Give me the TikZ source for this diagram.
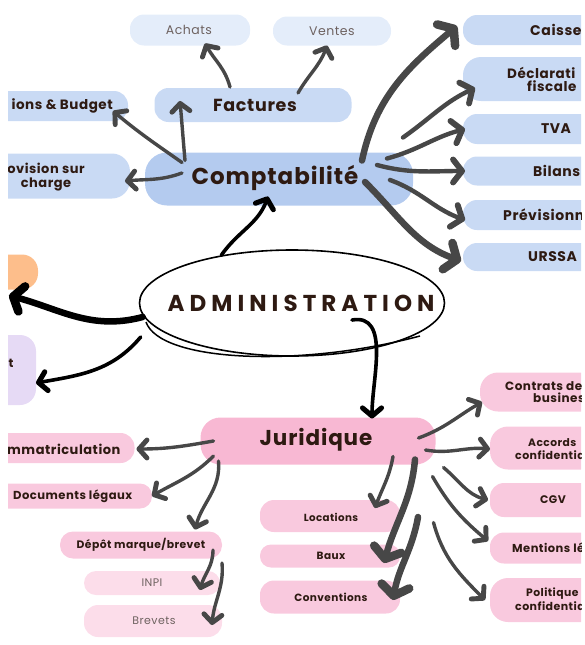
\documentclass[tikz,border=0pt]{standalone}
\usepackage{fontspec}
\setmainfont{Poppins}[LetterSpace=4]
\usetikzlibrary{arrows.meta,shapes.geometric}

\definecolor{ink}{HTML}{2E1A12}
\definecolor{soft}{HTML}{6E6260}
\definecolor{blueA}{HTML}{B4CBEF}
\definecolor{blueB}{HTML}{C9DAF4}
\definecolor{blueC}{HTML}{E4EDFA}
\definecolor{pinkA}{HTML}{F8B8D3}
\definecolor{pinkB}{HTML}{F9C9DE}
\definecolor{pinkC}{HTML}{FCDDEA}
\definecolor{peach}{HTML}{FDBE8B}
\definecolor{lilac}{HTML}{E6DAF5}
\definecolor{agray}{HTML}{474747}

\tikzset{
  pill/.style={inner sep=0pt, outer sep=0pt, rounded corners=#1},
  pill/.default=14pt,
  lbl/.style={inner sep=0pt, text=ink, font=\bfseries\fontsize{#1}{#1}\selectfont},
  lbl/.default=10,
  lite/.style={inner sep=0pt, text=soft, font=\fontsize{#1}{#1}\selectfont},
  lite/.default=10,
  garrow/.style={draw=agray, line width=3.4pt, line cap=round,
    -{Straight Barb[length=8pt,width=18pt,line width=1.5pt 1,round]}},
  gmid/.style={draw=agray, line width=4.4pt, line cap=round,
    -{Straight Barb[length=9pt,width=23pt,line width=1.5pt 1,round]}},
  gthick/.style={draw=agray, line width=6.5pt, line cap=round,
    -{Straight Barb[length=10pt,width=28pt,line width=2pt 1,round]}},
  barrow/.style={draw=black, line width=3.6pt, line cap=round,
    -{Straight Barb[length=8pt,width=19pt,line width=1.5pt 1,round]}},
}

\begin{document}
\begin{tikzpicture}[x=1pt,y=-1pt]
\useasboundingbox (0,0) rectangle (584,645);
\clip (8,0) rectangle (581,645);

% Comptabilite
\node[pill=22pt, fill=blueA, minimum width=268pt, minimum height=53pt] (compta) at (279,179) {};
\node[lbl=23] at (275,178) {Comptabilité};
\node[pill, fill=blueB, minimum width=197pt, minimum height=34pt] (fact) at (253,105) {};
\node[lbl=17.5] at (255,105) {Factures};
\node[pill, fill=blueC, minimum width=120pt, minimum height=31pt] (achats) at (190,30) {};
\node[lite=12.5] at (189,30) {Achats};
\node[pill, fill=blueC, minimum width=118pt, minimum height=29pt] (ventes) at (332,31) {};
\node[lite=12.5] at (332,31) {Ventes};
\node[pill, fill=blueB, minimum width=168pt, minimum height=30pt] (prevb) at (44,106) {};
\node[lbl=13.5, anchor=east] at (113,106) {ions \& Budget};
\node[pill=18pt, fill=blueB, minimum width=170pt, minimum height=45pt] (provc) at (45,176) {};
\node[lbl=13, align=center] at (46,177) {ovision sur\\[1pt]charge};

\node[pill, fill=blueB, minimum width=240pt, minimum height=30pt] (caisse) at (583,30) {};
\node[lbl=14, anchor=west] at (530,30) {Caisse};
\node[pill=18pt, fill=blueB, minimum width=240pt, minimum height=44pt] (decl) at (583,79) {};
\node[lbl=13.5, anchor=west] at (507,73) {Déclarati};
\node[lbl=13.5, anchor=west] at (527,86) {fiscale};
\node[pill, fill=blueB, minimum width=240pt, minimum height=30pt] (tva) at (583,129) {};
\node[lbl=14] at (556,129) {TVA};
\node[pill, fill=blueB, minimum width=240pt, minimum height=29pt] (bilans) at (583,171) {};
\node[lbl=14, anchor=west] at (533,171) {Bilans};
\node[pill, fill=blueB, minimum width=240pt, minimum height=30pt] (previ) at (583,215) {};
\node[lbl=14, anchor=west] at (503,215) {Prévisionn};
\node[pill, fill=blueB, minimum width=240pt, minimum height=28pt] (urssaf) at (583,257) {};
\node[lbl=14, anchor=west] at (528,257) {URSSA};

% Administration
\node[pill=16pt, fill=peach, minimum width=58pt, minimum height=35pt] (peachbox) at (9,272) {};
\node[pill=16pt, fill=lilac, minimum width=56pt, minimum height=70pt] (lilacbox) at (8,370) {};
\node[lbl=12] at (11,363) {t};
\node[draw, ellipse, line width=1.6pt, minimum width=305pt, minimum height=106pt,
  inner sep=0pt] (adm) at (292,303) {};
\draw[line width=1.5pt] (146,322) .. controls (160,362) and (300,368) .. (420,336);
\node[lbl=23] at (301,303) {\addfontfeature{LetterSpace=22}ADMINISTRATION};

% Juridique
\node[pill=20pt, fill=pinkA, minimum width=235pt, minimum height=47pt] (juri) at (318,441) {};
\node[lbl=21.5] at (316,440) {Juridique};
\node[pill, fill=pinkB, minimum width=175pt, minimum height=30pt] (immat) at (47,448) {};
\node[lbl=13, anchor=west] at (7,449) {mmatriculation};
\node[pill=12pt, fill=pinkB, minimum width=172pt, minimum height=25pt] (docs) at (66,496) {};
\node[lbl=11.6, anchor=west] at (13,496) {Documents légaux};
\node[pill=13pt, fill=pinkB, minimum width=162pt, minimum height=27pt] (depot) at (141,545) {};
\node[lbl=10.8] at (141,545) {Dépôt marque/brevet};
\node[pill=12pt, fill=pinkC, minimum width=136pt, minimum height=24pt] (inpi) at (152,583) {};
\node[lite=11] at (152,583) {INPI};
\node[pill, fill=pinkC, minimum width=138pt, minimum height=32pt] (brevets) at (153,621) {};
\node[lite=11] at (154,621) {Brevets};
\node[pill, fill=pinkB, minimum width=140pt, minimum height=32pt] (loc) at (330,516) {};
\node[lbl=10.3] at (331,517) {Locations};
\node[pill=11pt, fill=pinkB, minimum width=140pt, minimum height=23pt] (baux) at (330,556) {};
\node[lbl=10.5] at (331,556) {Baux};
\node[pill, fill=pinkB, minimum width=140pt, minimum height=33pt] (conv) at (330,597) {};
\node[lbl=10.5] at (331,597) {Conventions};

\node[pill=18pt, fill=pinkB, minimum width=240pt, minimum height=39pt] (contrats) at (600,392) {};
\node[lbl=12, anchor=west] at (505,386) {Contrats de};
\node[lbl=12, anchor=west] at (533,398) {busines};
\node[pill=18pt, fill=pinkB, minimum width=240pt, minimum height=43pt] (accords) at (610,448) {};
\node[lbl=10.7, anchor=west] at (528,443) {Accords};
\node[lbl=11, anchor=west] at (515,455) {confidentia};
\node[pill, fill=pinkB, minimum width=240pt, minimum height=34pt] (cgv) at (610,500) {};
\node[lbl=11] at (553,500) {CGV};
\node[pill, fill=pinkB, minimum width=240pt, minimum height=31pt] (mentions) at (610,548) {};
\node[lbl=11.5, anchor=west] at (512,548) {Mentions lé};
\node[pill=18pt, fill=pinkB, minimum width=240pt, minimum height=44pt] (politique) at (610,600) {};
\node[lbl=10.8, anchor=west] at (526,594) {Politique};
\node[lbl=11, anchor=west] at (515,606) {confidentia};

% arrows from Comptabilite
\draw[garrow] ([xshift=-94pt,yshift=-8pt]compta.north) to[out=95,in=-85] ([xshift=-73pt,yshift=4pt]fact.center);
\draw[garrow] ([xshift=-97pt,yshift=-10pt]compta.north) to[out=145,in=-40] ([xshift=-15pt,yshift=-5pt]prevb.east);
\draw[garrow] ([xshift=37pt,yshift=6pt]compta.west) to[out=200,in=5] ([xshift=-5pt,yshift=-5pt]provc.east);
\draw[garrow] ([xshift=-23pt,yshift=1pt]fact.north) to[out=105,in=-60] ([xshift=15pt,yshift=2pt]achats.south);
\draw[garrow] ([xshift=45pt,yshift=-5pt]fact.north) to[out=60,in=-110] ([xshift=-5pt]ventes.south);
\draw[gthick] ([xshift=83pt,yshift=-8pt]compta.north) to[out=78,in=-140] ([xshift=-6pt,yshift=4pt]caisse.west);
\draw[gmid] ([xshift=-10pt,yshift=15pt]compta.north east) to[out=35,in=-155] ([xshift=12pt,yshift=-9pt]decl.west);
\draw[gmid] ([xshift=-26pt,yshift=-6pt]compta.north east) to[out=15,in=-165] ([xshift=2pt]tva.west);
\draw[gmid] ([xshift=-36pt,yshift=14pt]compta.east) to[out=-15,in=180] ([xshift=2pt]bilans.west);
\draw[gmid] ([xshift=-23pt,yshift=-1pt]compta.east) to[out=-20,in=160] ([xshift=2pt,yshift=-5pt]previ.west);
\draw[gthick] ([xshift=-48pt,yshift=-3pt]compta.east) to[out=-45,in=160] ([xshift=-2pt,yshift=-4pt]urssaf.west);

% arrows from Administration
\draw[barrow] (adm.146) to[out=55,in=-110] ([xshift=-11pt,yshift=9pt]compta.south);
\draw[barrow] ([xshift=60pt,yshift=-17pt]adm.center) to[out=10,in=90] ([xshift=54pt,yshift=-1pt]juri.north);
\draw[draw=black, line width=6.5pt, line cap=round,
  -{Straight Barb[length=9pt,width=26pt,line width=2pt 1,round]}]
  ([xshift=4pt,yshift=-14pt]adm.west) to[out=195,in=-15] ([yshift=-6pt]peachbox.south);
\draw[barrow] ([xshift=2pt,yshift=-34pt]adm.west) to[out=-130,in=10] ([yshift=-13pt]lilacbox.east);

% arrows from Juridique
\draw[garrow] ([xshift=-17pt,yshift=3pt]juri.east) to[out=20,in=-150] ([xshift=2pt,yshift=-10pt]contrats.west);
\draw[garrow] ([xshift=-10pt,yshift=-9pt]juri.east) to[out=-10,in=175] ([yshift=-1pt]accords.west);
\draw[garrow] ([xshift=8pt,yshift=-3pt]juri.south east) to[out=-40,in=165] ([xshift=-2pt]cgv.west);
\draw[garrow] ([xshift=-3pt,yshift=-12pt]juri.south east) to[out=-60,in=140] ([xshift=-2pt,yshift=7pt]mentions.west);
\draw[garrow] ([xshift=-2pt,yshift=-58pt]juri.south east) to[out=-75,in=135] ([xshift=-5pt]politique.west);
\draw[garrow] ([xshift=75pt,yshift=8pt]juri.south) to[out=-100,in=70] ([xshift=45pt,yshift=-8pt]loc.north);
\draw[gthick] ([xshift=97pt,yshift=5pt]juri.south) to[out=-95,in=75] ([xshift=-16pt,yshift=-7pt]baux.east);
\draw[gthick] ([xshift=18pt,yshift=-1pt]loc.east) to[out=-100,in=80] ([xshift=-7pt,yshift=-3pt]conv.east);
\draw[garrow] ([xshift=13pt]juri.west) to[out=190,in=0] ([xshift=2pt,yshift=-1pt]immat.east);
\draw[garrow] ([xshift=13pt,yshift=-15pt]juri.west) to[out=-135,in=30] (docs.east);
\draw[garrow] ([xshift=18pt,yshift=-20pt]juri.west) to[out=-85,in=75] ([xshift=54pt,yshift=2pt]depot.north);
\draw[garrow] ([xshift=-9pt,yshift=-5pt]depot.east) to[out=-90,in=75] ([xshift=-20pt,yshift=-7pt]inpi.east);
\draw[garrow] ([yshift=-18pt]depot.east) to[out=-85,in=85] ([xshift=-10pt,yshift=-4pt]brevets.east);
\end{tikzpicture}
\end{document}
